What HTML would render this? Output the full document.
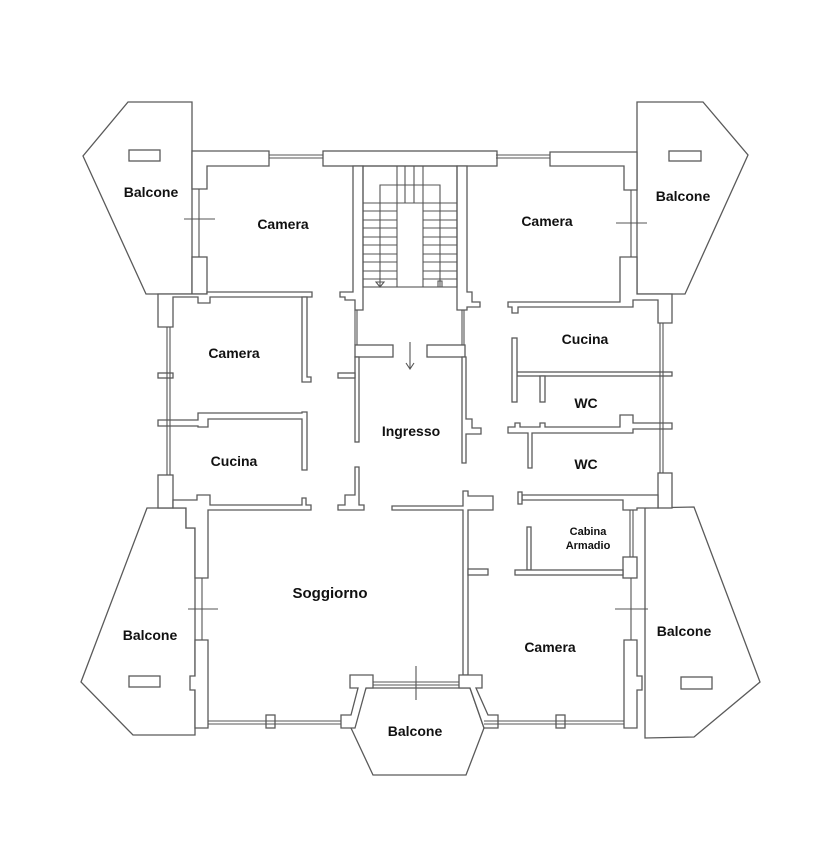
<!DOCTYPE html>
<html><head><meta charset="utf-8"><style>
html,body{margin:0;padding:0;background:#fff;}
svg{display:block;}
text{font-family:"Liberation Sans",sans-serif;font-weight:bold;font-size:14px;fill:#111;text-anchor:middle;}
</style></head><body>
<svg width="840" height="842" viewBox="0 0 840 842" xmlns="http://www.w3.org/2000/svg">
<g fill="#fff" stroke="#5a5a5a" stroke-width="1.3" stroke-linejoin="miter">
<polygon points="128,102 192,102 192,294 146,294 83,156"/>
<rect x="129" y="150" width="31" height="11"/>
<polygon points="637,102 703,102 748,155 685,294 637,294"/>
<rect x="669" y="151" width="32" height="10"/>
<polygon points="147,508 186,508 186,528 195,528 195,735 133,735 81,682"/>
<rect x="129" y="676" width="31" height="11"/>
<polygon points="645,508 694,507 760,682 694,737 645,738"/>
<rect x="681" y="677" width="31" height="12"/>
<polygon points="351,728 373,775 466,775 484,728 470,688 366,688"/>

<polygon points="192,151 269,151 269,166 207,166 207,189 192,189"/>
<rect x="323" y="151" width="174" height="15"/>
<polygon points="550,152 637,152 637,190 624,190 624,166 550,166"/>
<rect x="192" y="257" width="15" height="37"/>
<polygon points="353,166 363,166 363,310 355,310 355,300 345,300 345,297 340,297 340,292 353,292"/>
<polygon points="457,166 467,166 467,292 472,292 472,302 480,302 480,307 467,307 467,310 457,310"/>
<rect x="355" y="345" width="38" height="12"/>
<rect x="427" y="345" width="38" height="12"/>
<rect x="355" y="357" width="4" height="85"/>
<polygon points="462,357 466,357 466,419 472,419 472,428 481,428 481,434 466,434 466,463 462,463"/>
<rect x="338" y="373" width="17" height="5"/>
<polygon points="355,467 359,467 359,505 364,505 364,510 338,510 338,505 345,505 345,495 355,495"/>
<polygon points="392,506 463,506 463,491 468,491 468,496 493,496 493,510 468,510 468,675 463,675 463,510 392,510"/>
<rect x="468" y="569" width="20" height="6"/>
<polygon points="158,294 207,294 207,292 312,292 312,297 210,297 210,303 198,303 198,297 173,297 173,327 158,327"/>
<polygon points="302,297 307,297 307,377 311,377 311,382 302,382"/>
<rect x="158" y="373" width="15" height="5"/>
<polygon points="158,420 198,420 198,413 302,413 302,412 307,412 307,470 302,470 302,419 208,419 208,427 198,427 198,426 158,426"/>
<rect x="158" y="475" width="15" height="33"/>
<polygon points="173,500 197,500 197,495 210,495 210,505 302,505 302,498 306,498 306,505 311,505 311,510 208,510 208,578 195,578 195,528 186,528 186,508 173,508"/>
<polygon points="195,640 208,640 208,728 195,728 195,690 190,690 190,676 195,676"/>
<polygon points="508,302 620,302 620,257 637,257 637,294 672,294 672,323 658,323 658,300 633,300 633,307 518,307 518,313 512,313 512,307 508,307"/>
<rect x="517" y="372" width="155" height="4"/>
<rect x="512" y="338" width="5" height="64"/>
<rect x="540" y="376" width="5" height="26"/>
<polygon points="508,427 515,427 515,423 520,423 520,427 540,427 540,423 545,423 545,427 620,427 620,415 633,415 633,423 672,423 672,429 633,429 633,433 532,433 532,468 528,468 528,433 508,433"/>
<rect x="658" y="473" width="14" height="35"/>
<polygon points="522,495 658,495 658,508 637,508 637,510 623,510 623,500 522,500"/>
<rect x="518" y="492" width="4" height="12"/>
<rect x="623" y="557" width="14" height="21"/>
<rect x="527" y="527" width="4" height="43"/>
<rect x="515" y="570" width="108" height="5"/>
<polygon points="624,640 637,640 637,676 642,676 642,690 637,690 637,728 624,728"/>
<polygon points="341,715 351,715 358,688 350,688 350,675 373,675 373,688 366,688 355,728 341,728"/>
<polygon points="459,675 482,675 482,688 476,688 488,715 498,715 498,728 484,728 470,688 459,688"/>
<rect x="266" y="715" width="9" height="13"/>
<rect x="556" y="715" width="9" height="13"/>
</g>
<g stroke="#555" stroke-width="1.1" fill="none">
<path d="M269,155H323M269,158H323M496,155H550M496,158H550"/>
<path d="M167,327V475M170,327V475M660,323V473M663,323V473"/>
<path d="M208,721H341M208,724H341M484,721H624M484,724H624"/>
<path d="M373,682H459M373,685H459M630,510V557M633,510V557"/>
<path d="M355,310V345M357,310V345M462,310V345M464,310V345"/>
<path d="M199,189V257M184,219H215M631,190V257M616,223H647"/>
<path d="M202,578V640M188,609H218M631,578V640M615,609H648M416,666V700"/>
<rect x="363" y="166" width="94" height="121"/>
<path d="M397,166V287M423,166V287M380,287V185H440V287M405,166V203M414,166V203M397,203H423"/>
<path d="M363,203H397M363,211H397M363,220H397M363,228H397M363,237H397M363,245H397M363,254H397M363,262H397M363,271H397M363,279H397"/>
<path d="M423,203H457M423,211H457M423,220H457M423,228H457M423,237H457M423,245H457M423,254H457M423,262H457M423,271H457M423,279H457"/>
<path d="M376,282L380,287L384,282Z M438,287V281H442V287"/>
<path d="M410,342V369M406,363L410,369L414,363"/>
</g>
<text x="151" y="197">Balcone</text>
<text x="283" y="229">Camera</text>
<text x="234" y="358">Camera</text>
<text x="234" y="466">Cucina</text>
<text x="411" y="436">Ingresso</text>
<text x="547" y="226">Camera</text>
<text x="683" y="201">Balcone</text>
<text x="585" y="344">Cucina</text>
<text x="586" y="408">WC</text>
<text x="586" y="469">WC</text>
<text x="588" y="535" style="font-size:11px">Cabina</text>
<text x="588" y="549" style="font-size:11px">Armadio</text>
<text x="330" y="598" style="font-size:15px">Soggiorno</text>
<text x="150" y="640">Balcone</text>
<text x="550" y="652">Camera</text>
<text x="684" y="636">Balcone</text>
<text x="415" y="736">Balcone</text>
</svg>
</body></html>
